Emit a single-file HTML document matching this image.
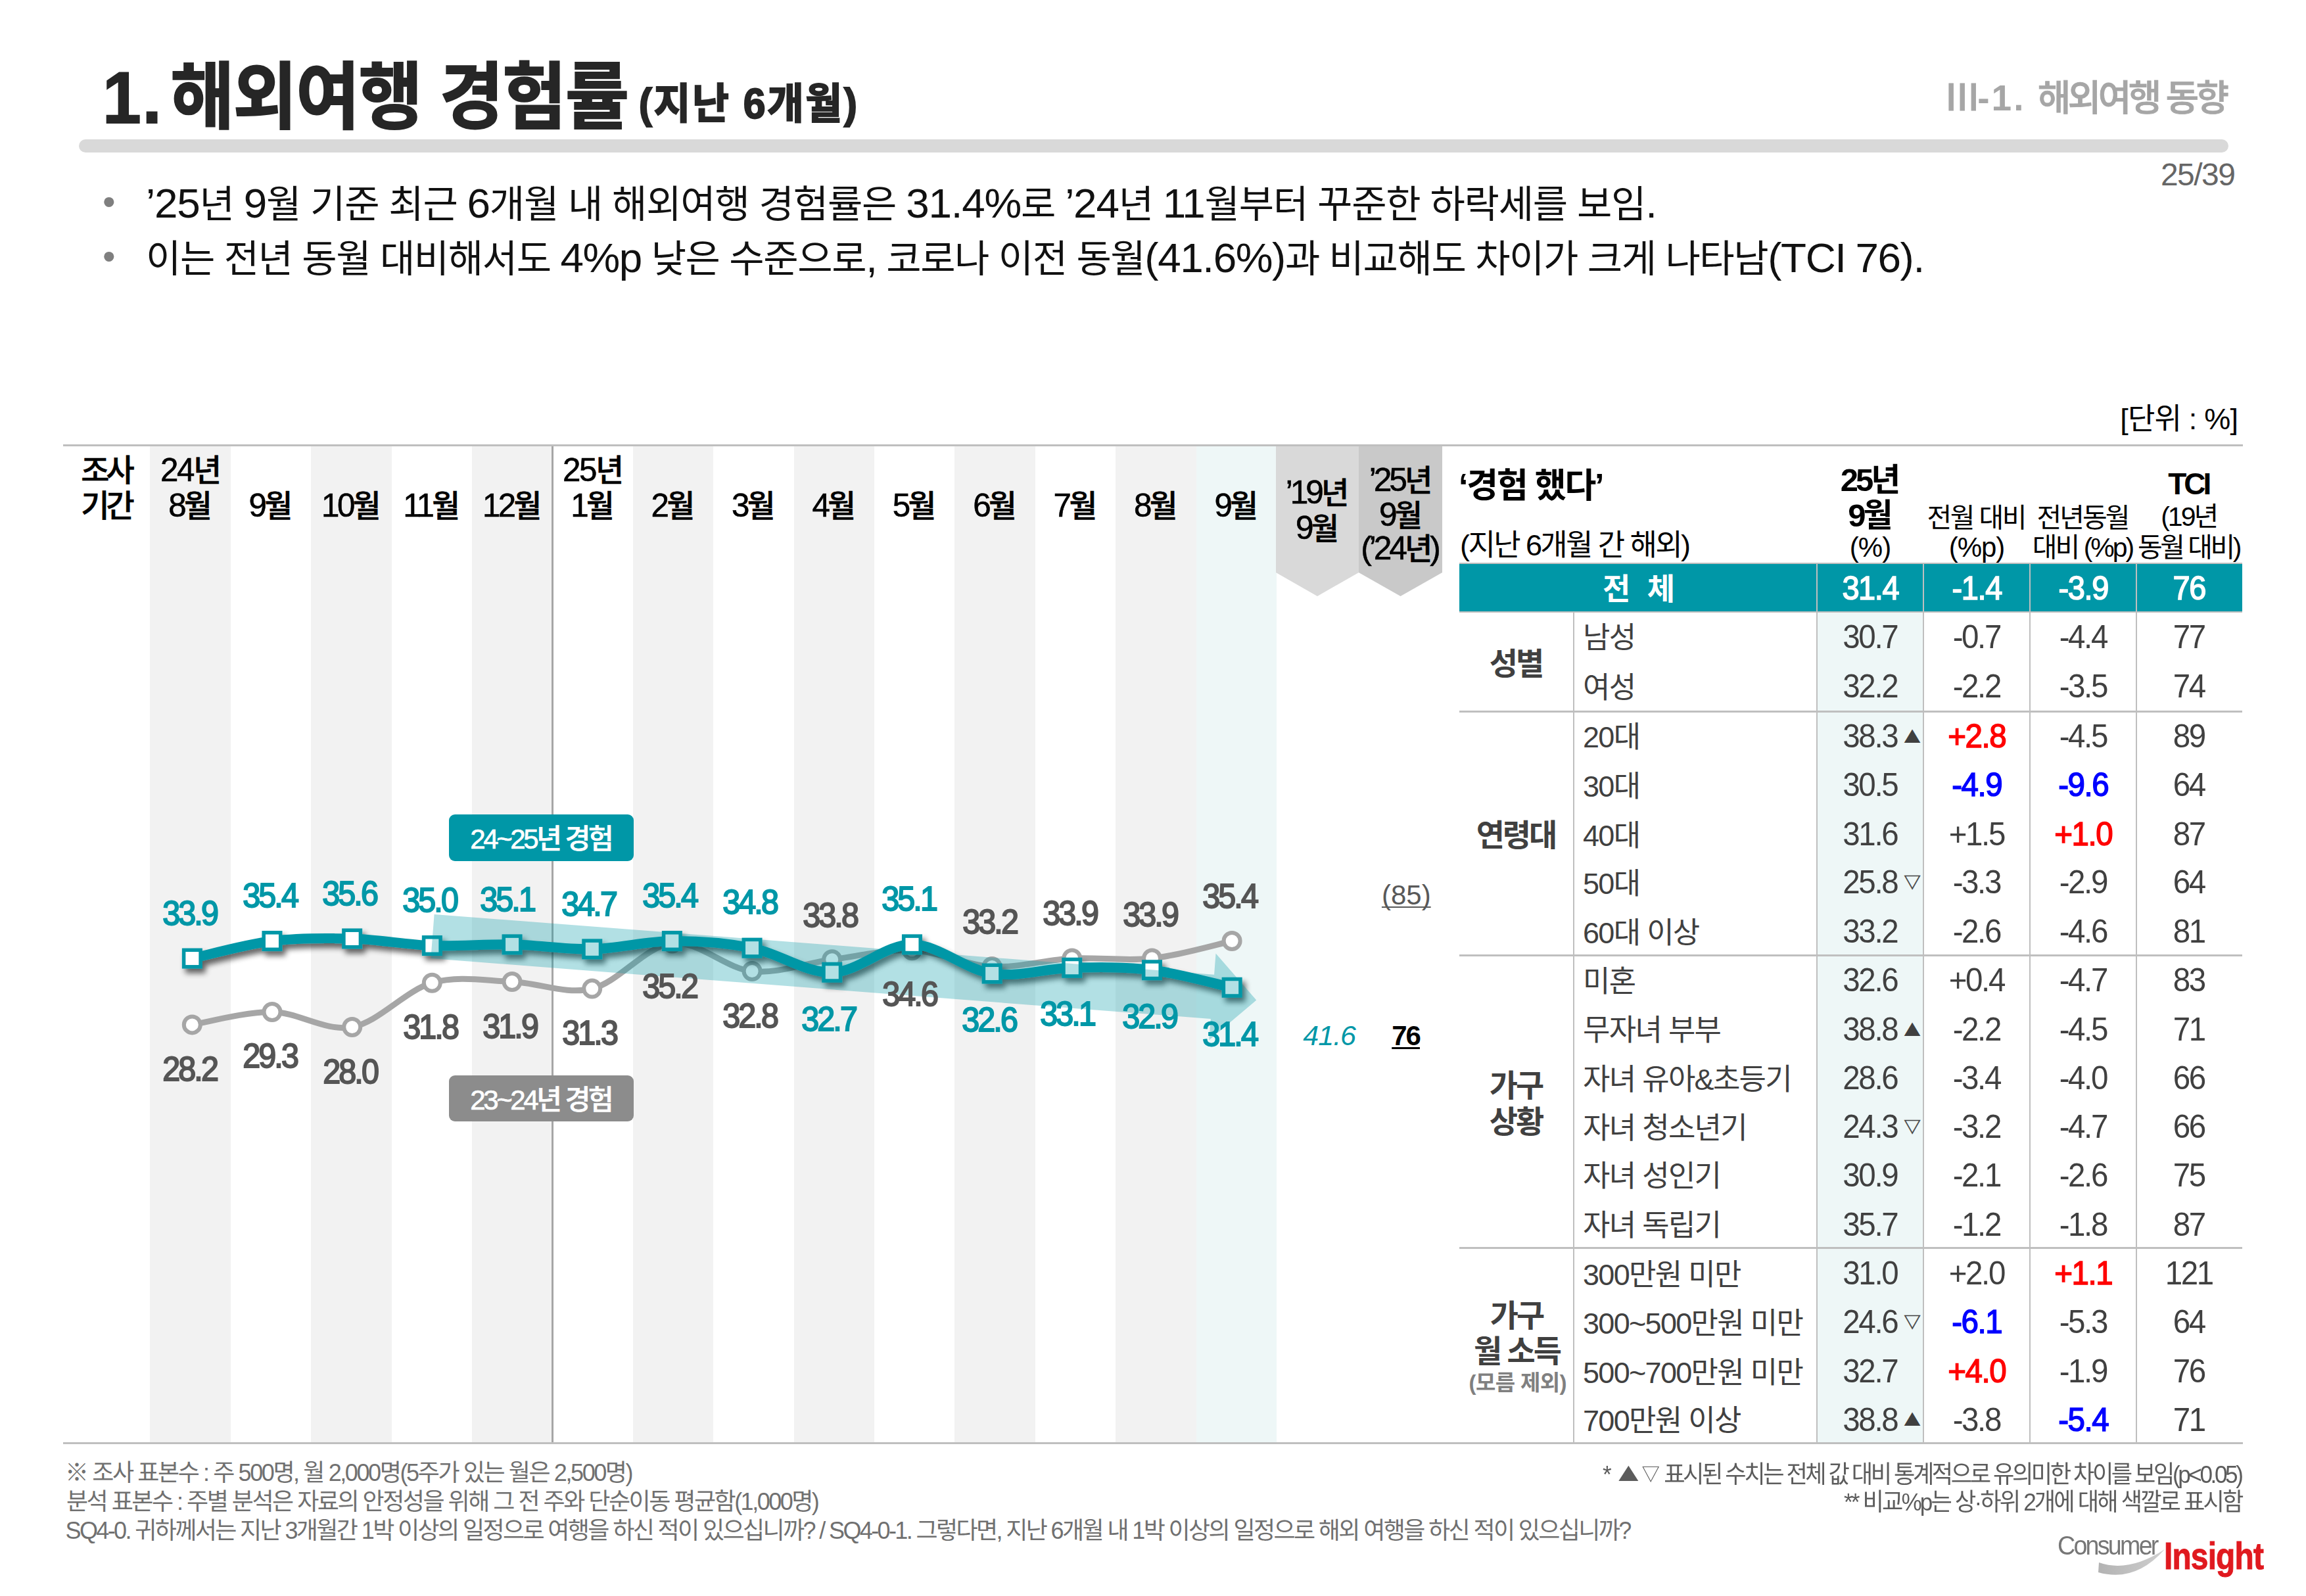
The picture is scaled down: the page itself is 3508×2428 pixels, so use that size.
<!DOCTYPE html>
<html lang="ko">
<head>
<meta charset="utf-8">
<title>1. 해외여행 경험률 (지난 6개월)</title>
<style>
html,body{margin:0;padding:0;background:#fff;}
body{width:3508px;height:2428px;position:relative;overflow:hidden;font-family:"Liberation Sans", "Noto Sans CJK KR", sans-serif;}
.t{position:absolute;white-space:nowrap;margin:0;padding:0;font-family:"Liberation Sans", "Noto Sans CJK KR", sans-serif;}
.r{position:absolute;}
svg{position:absolute;left:0;top:0;}
svg text{font-family:"Liberation Sans", "Noto Sans CJK KR", sans-serif;}

</style>
</head>
<body>
<header>
<h1 class="t" style="top:83.4px;font-size:111px;line-height:133.2px;font-weight:700;color:#262626;letter-spacing:-1.6px;left:156.0px;transform-origin:0 50%;transform:scaleX(0.95);-webkit-text-stroke:2px #262626;"><span style="letter-spacing:2px;margin-right:12px">1.</span>해외여행 경험률 <span style="font-size:64px;letter-spacing:2.6px;position:relative;top:-7px;margin-left:-12px">(지난 6개월)</span></h1>
<div class="t" style="top:115.9px;font-size:55px;line-height:66.0px;font-weight:500;color:#a6a6a6;letter-spacing:-4.6px;right:121.6px;-webkit-text-stroke:0.8px #a6a6a6;">Ⅲ<span style="letter-spacing:3px;font-weight:700;-webkit-text-stroke:0">-1. </span>해외여행 동향</div>
<div class="r" style="left:120.0px;top:212.0px;width:3270.0px;height:20.0px;background:#d9d9d9;border-radius:10px;"></div>
<div class="t" style="top:236.6px;font-size:48px;line-height:57.6px;font-weight:400;color:#666;letter-spacing:-1.5px;right:108.5px;">25/39</div>
<div class="t" style="top:272.5px;font-size:56px;line-height:67.2px;font-weight:400;color:#7f7f7f;left:156.0px;">•</div>
<div class="t" style="top:355.5px;font-size:56px;line-height:67.2px;font-weight:400;color:#7f7f7f;left:156.0px;">•</div>
<p class="t" style="top:275.1px;font-size:58px;line-height:69.6px;font-weight:400;color:#111;letter-spacing:-1.2px;left:222.0px;"><span style="font-size:1.1em">’25</span>년 <span style="font-size:1.1em">9</span>월 기준 최근 <span style="font-size:1.1em">6</span>개월 내 해외여행 경험률은 <span style="font-size:1.1em">31.4%</span>로 <span style="font-size:1.1em">’24</span>년 <span style="font-size:1.1em">11</span>월부터 꾸준한 하락세를 보임<span style="font-size:1.1em">.</span></p>
<p class="t" style="top:358.1px;font-size:58px;line-height:69.6px;font-weight:400;color:#111;letter-spacing:-1.4px;left:222.0px;">이는 전년 동월 대비해서도 <span style="font-size:1.1em">4%p</span> 낮은 수준으로<span style="font-size:1.1em">,</span> 코로나 이전 동월<span style="font-size:1.1em">(41.6%)</span>과 비교해도 차이가 크게 나타남<span style="font-size:1.1em">(TCI</span> <span style="font-size:1.1em">76).</span></p>
<div class="t" style="top:611.4px;font-size:45px;line-height:54.0px;font-weight:400;color:#000;letter-spacing:-0.8px;right:103.8px;">[단위 : %]</div>
</header>
<section class="chart" aria-label="해외여행 경험률 추이">
<div class="r" style="left:228.0px;top:679.0px;width:123.0px;height:1515.0px;background:#f2f2f2;"></div>
<div class="r" style="left:473.0px;top:679.0px;width:123.0px;height:1515.0px;background:#f2f2f2;"></div>
<div class="r" style="left:718.0px;top:679.0px;width:122.0px;height:1515.0px;background:#f2f2f2;"></div>
<div class="r" style="left:963.0px;top:679.0px;width:122.0px;height:1515.0px;background:#f2f2f2;"></div>
<div class="r" style="left:1208.0px;top:679.0px;width:122.0px;height:1515.0px;background:#f2f2f2;"></div>
<div class="r" style="left:1452.0px;top:679.0px;width:123.0px;height:1515.0px;background:#f2f2f2;"></div>
<div class="r" style="left:1697.0px;top:679.0px;width:123.0px;height:1515.0px;background:#f2f2f2;"></div>
<div class="r" style="left:1820.0px;top:679.0px;width:122.0px;height:1515.0px;background:#eef7f7;"></div>
<div class="r" style="left:96.0px;top:676.0px;width:3316.0px;height:3.0px;background:#bfbfbf;"></div>
<div class="r" style="left:96.0px;top:2194.0px;width:3316.0px;height:3.0px;background:#bfbfbf;"></div>
<div class="r" style="left:839.0px;top:679.0px;width:3.0px;height:1515.0px;background:#a6a6a6;"></div>
<div class="t" style="top:687.5px;font-size:47px;line-height:56.4px;font-weight:500;color:#000;letter-spacing:-5px;left:164.0px;transform:translateX(calc(-50% + -2.50px));-webkit-text-stroke:0.6px #000;">조사</div>
<div class="t" style="top:741.5px;font-size:47px;line-height:56.4px;font-weight:500;color:#000;letter-spacing:-5px;left:164.0px;transform:translateX(calc(-50% + -2.50px));-webkit-text-stroke:0.6px #000;">기간</div>
<div class="t" style="top:741.0px;font-size:46.5px;line-height:55.8px;font-weight:500;color:#000;letter-spacing:-3.6px;left:289.5px;transform:translateX(calc(-50% + -1.80px));-webkit-text-stroke:0.6px #000;"><span style="font-size:1.06em">8</span>월</div>
<div class="t" style="top:741.0px;font-size:46.5px;line-height:55.8px;font-weight:500;color:#000;letter-spacing:-3.6px;left:411.9px;transform:translateX(calc(-50% + -1.80px));-webkit-text-stroke:0.6px #000;"><span style="font-size:1.06em">9</span>월</div>
<div class="t" style="top:741.0px;font-size:46.5px;line-height:55.8px;font-weight:500;color:#000;letter-spacing:-3.6px;left:534.3px;transform:translateX(calc(-50% + -1.80px));-webkit-text-stroke:0.6px #000;"><span style="font-size:1.06em">10</span>월</div>
<div class="t" style="top:741.0px;font-size:46.5px;line-height:55.8px;font-weight:500;color:#000;letter-spacing:-3.6px;left:656.7px;transform:translateX(calc(-50% + -1.80px));-webkit-text-stroke:0.6px #000;"><span style="font-size:1.06em">11</span>월</div>
<div class="t" style="top:741.0px;font-size:46.5px;line-height:55.8px;font-weight:500;color:#000;letter-spacing:-3.6px;left:779.1px;transform:translateX(calc(-50% + -1.80px));-webkit-text-stroke:0.6px #000;"><span style="font-size:1.06em">12</span>월</div>
<div class="t" style="top:741.0px;font-size:46.5px;line-height:55.8px;font-weight:500;color:#000;letter-spacing:-3.6px;left:901.5px;transform:translateX(calc(-50% + -1.80px));-webkit-text-stroke:0.6px #000;"><span style="font-size:1.06em">1</span>월</div>
<div class="t" style="top:741.0px;font-size:46.5px;line-height:55.8px;font-weight:500;color:#000;letter-spacing:-3.6px;left:1023.9px;transform:translateX(calc(-50% + -1.80px));-webkit-text-stroke:0.6px #000;"><span style="font-size:1.06em">2</span>월</div>
<div class="t" style="top:741.0px;font-size:46.5px;line-height:55.8px;font-weight:500;color:#000;letter-spacing:-3.6px;left:1146.3px;transform:translateX(calc(-50% + -1.80px));-webkit-text-stroke:0.6px #000;"><span style="font-size:1.06em">3</span>월</div>
<div class="t" style="top:741.0px;font-size:46.5px;line-height:55.8px;font-weight:500;color:#000;letter-spacing:-3.6px;left:1268.7px;transform:translateX(calc(-50% + -1.80px));-webkit-text-stroke:0.6px #000;"><span style="font-size:1.06em">4</span>월</div>
<div class="t" style="top:741.0px;font-size:46.5px;line-height:55.8px;font-weight:500;color:#000;letter-spacing:-3.6px;left:1391.1px;transform:translateX(calc(-50% + -1.80px));-webkit-text-stroke:0.6px #000;"><span style="font-size:1.06em">5</span>월</div>
<div class="t" style="top:741.0px;font-size:46.5px;line-height:55.8px;font-weight:500;color:#000;letter-spacing:-3.6px;left:1513.5px;transform:translateX(calc(-50% + -1.80px));-webkit-text-stroke:0.6px #000;"><span style="font-size:1.06em">6</span>월</div>
<div class="t" style="top:741.0px;font-size:46.5px;line-height:55.8px;font-weight:500;color:#000;letter-spacing:-3.6px;left:1635.9px;transform:translateX(calc(-50% + -1.80px));-webkit-text-stroke:0.6px #000;"><span style="font-size:1.06em">7</span>월</div>
<div class="t" style="top:741.0px;font-size:46.5px;line-height:55.8px;font-weight:500;color:#000;letter-spacing:-3.6px;left:1758.3px;transform:translateX(calc(-50% + -1.80px));-webkit-text-stroke:0.6px #000;"><span style="font-size:1.06em">8</span>월</div>
<div class="t" style="top:741.0px;font-size:46.5px;line-height:55.8px;font-weight:500;color:#000;letter-spacing:-3.6px;left:1880.7px;transform:translateX(calc(-50% + -1.80px));-webkit-text-stroke:0.6px #000;"><span style="font-size:1.06em">9</span>월</div>
<div class="t" style="top:687.0px;font-size:46.5px;line-height:55.8px;font-weight:500;color:#000;letter-spacing:-2.2px;left:290.5px;transform:translateX(calc(-50% + -1.10px));-webkit-text-stroke:0.6px #000;"><span style="font-size:1.06em">24</span>년</div>
<div class="t" style="top:687.0px;font-size:46.5px;line-height:55.8px;font-weight:500;color:#000;letter-spacing:-2.2px;left:902.5px;transform:translateX(calc(-50% + -1.10px));-webkit-text-stroke:0.6px #000;"><span style="font-size:1.06em">25</span>년</div>
<svg width="3508" height="2428" viewBox="0 0 3508 2428">
<defs><filter id="sh" x="-5%" y="-50%" width="110%" height="220%"><feGaussianBlur in="SourceAlpha" stdDeviation="4"/><feOffset dx="5" dy="7"/><feComponentTransfer><feFuncA type="linear" slope="0.6"/></feComponentTransfer><feMerge><feMergeNode/><feMergeNode in="SourceGraphic"/></feMerge></filter></defs>
<polygon points="1941,679 2067,679 2067,871 2004.0,907 1941,871" fill="#d9d9d9"/>
<polygon points="2067,679 2194,679 2194,871 2130.5,907 2067,871" fill="#c9c9c9"/>
<path d="M292.3,1558.9 C312.6,1555.7 373.4,1538.9 414.0,1539.5 C454.5,1540.1 495.1,1569.9 535.7,1562.5 C576.2,1555.1 616.8,1506.7 657.3,1495.2 C697.9,1483.7 738.5,1492.0 779.0,1493.5 C819.6,1494.9 860.1,1513.8 900.7,1504.1 C941.3,1494.3 981.8,1439.5 1022.4,1435.0 C1062.9,1430.6 1103.5,1473.4 1144.1,1477.5 C1184.6,1481.7 1225.2,1465.1 1265.7,1459.8 C1306.3,1454.5 1346.9,1443.9 1387.4,1445.7 C1428.0,1447.4 1468.5,1468.4 1509.1,1470.4 C1549.7,1472.5 1590.2,1460.1 1630.8,1458.0 C1671.3,1456.0 1711.9,1462.5 1752.5,1458.0 C1793.0,1453.6 1853.9,1435.9 1874.1,1431.5" fill="none" stroke="#a6a6a6" stroke-width="9" stroke-linecap="round" stroke-linejoin="round"/>
<circle cx="292.3" cy="1558.9" r="12.5" fill="#fff" stroke="#a6a6a6" stroke-width="6"/>
<circle cx="414.0" cy="1539.5" r="12.5" fill="#fff" stroke="#a6a6a6" stroke-width="6"/>
<circle cx="535.7" cy="1562.5" r="12.5" fill="#fff" stroke="#a6a6a6" stroke-width="6"/>
<circle cx="657.3" cy="1495.2" r="12.5" fill="#fff" stroke="#a6a6a6" stroke-width="6"/>
<circle cx="779.0" cy="1493.5" r="12.5" fill="#fff" stroke="#a6a6a6" stroke-width="6"/>
<circle cx="900.7" cy="1504.1" r="12.5" fill="#fff" stroke="#a6a6a6" stroke-width="6"/>
<circle cx="1022.4" cy="1435.0" r="12.5" fill="#fff" stroke="#a6a6a6" stroke-width="6"/>
<circle cx="1144.1" cy="1477.5" r="12.5" fill="#fff" stroke="#a6a6a6" stroke-width="6"/>
<circle cx="1265.7" cy="1459.8" r="12.5" fill="#fff" stroke="#a6a6a6" stroke-width="6"/>
<circle cx="1387.4" cy="1445.7" r="12.5" fill="#fff" stroke="#a6a6a6" stroke-width="6"/>
<circle cx="1509.1" cy="1470.4" r="12.5" fill="#fff" stroke="#a6a6a6" stroke-width="6"/>
<circle cx="1630.8" cy="1458.0" r="12.5" fill="#fff" stroke="#a6a6a6" stroke-width="6"/>
<circle cx="1752.5" cy="1458.0" r="12.5" fill="#fff" stroke="#a6a6a6" stroke-width="6"/>
<circle cx="1874.1" cy="1431.5" r="12.5" fill="#fff" stroke="#a6a6a6" stroke-width="6"/>
<g filter="url(#sh)"><path d="M292.3,1458.0 C312.6,1453.6 373.4,1436.5 414.0,1431.5 C454.5,1426.5 495.1,1426.8 535.7,1428.0 C576.2,1429.1 616.8,1437.1 657.3,1438.6 C697.9,1440.1 738.5,1435.9 779.0,1436.8 C819.6,1437.7 860.1,1444.8 900.7,1443.9 C941.3,1443.0 981.8,1431.8 1022.4,1431.5 C1062.9,1431.2 1103.5,1434.2 1144.1,1442.1 C1184.6,1450.1 1225.2,1480.2 1265.7,1479.3 C1306.3,1478.4 1346.9,1436.5 1387.4,1436.8 C1428.0,1437.1 1468.5,1475.2 1509.1,1481.1 C1549.7,1487.0 1590.2,1473.1 1630.8,1472.2 C1671.3,1471.3 1711.9,1470.7 1752.5,1475.8 C1793.0,1480.8 1853.9,1497.9 1874.1,1502.3" fill="none" stroke="#0097a7" stroke-width="15" stroke-linecap="round" stroke-linejoin="round"/>
<rect x="279.6" y="1445.3" width="25.5" height="25.5" fill="#fff" stroke="#0097a7" stroke-width="5.5"/>
<rect x="401.2" y="1418.8" width="25.5" height="25.5" fill="#fff" stroke="#0097a7" stroke-width="5.5"/>
<rect x="522.9" y="1415.2" width="25.5" height="25.5" fill="#fff" stroke="#0097a7" stroke-width="5.5"/>
<rect x="644.6" y="1425.8" width="25.5" height="25.5" fill="#fff" stroke="#0097a7" stroke-width="5.5"/>
<rect x="766.3" y="1424.1" width="25.5" height="25.5" fill="#fff" stroke="#0097a7" stroke-width="5.5"/>
<rect x="888.0" y="1431.1" width="25.5" height="25.5" fill="#fff" stroke="#0097a7" stroke-width="5.5"/>
<rect x="1009.6" y="1418.8" width="25.5" height="25.5" fill="#fff" stroke="#0097a7" stroke-width="5.5"/>
<rect x="1131.3" y="1429.4" width="25.5" height="25.5" fill="#fff" stroke="#0097a7" stroke-width="5.5"/>
<rect x="1253.0" y="1466.5" width="25.5" height="25.5" fill="#fff" stroke="#0097a7" stroke-width="5.5"/>
<rect x="1374.7" y="1424.1" width="25.5" height="25.5" fill="#fff" stroke="#0097a7" stroke-width="5.5"/>
<rect x="1496.4" y="1468.3" width="25.5" height="25.5" fill="#fff" stroke="#0097a7" stroke-width="5.5"/>
<rect x="1618.0" y="1459.5" width="25.5" height="25.5" fill="#fff" stroke="#0097a7" stroke-width="5.5"/>
<rect x="1739.7" y="1463.0" width="25.5" height="25.5" fill="#fff" stroke="#0097a7" stroke-width="5.5"/>
<rect x="1861.4" y="1489.5" width="25.5" height="25.5" fill="#fff" stroke="#0097a7" stroke-width="5.5"/>
</g>
<g transform="translate(658,1424.5) rotate(4.43)"><polygon points="0,-33.7 1190,-33.7 1190,-66 1257,0 1190,66 1190,33.7 0,33.7" fill="#0097a7" fill-opacity="0.3"/></g>
</svg>
<div class="t" style="top:721.5px;font-size:46px;line-height:55.2px;font-weight:500;color:#000;letter-spacing:-4px;left:2004.0px;transform:translateX(calc(-50% + -2.00px));-webkit-text-stroke:0.6px #000;"><span style="font-size:1.08em">’19</span>년</div>
<div class="t" style="top:775.5px;font-size:46px;line-height:55.2px;font-weight:500;color:#000;letter-spacing:-4px;left:2004.0px;transform:translateX(calc(-50% + -2.00px));-webkit-text-stroke:0.6px #000;"><span style="font-size:1.08em">9</span>월</div>
<div class="t" style="top:702.5px;font-size:46px;line-height:55.2px;font-weight:500;color:#000;letter-spacing:-4px;left:2131.0px;transform:translateX(calc(-50% + -2.00px));-webkit-text-stroke:0.6px #000;"><span style="font-size:1.08em">’25</span>년</div>
<div class="t" style="top:755.5px;font-size:46px;line-height:55.2px;font-weight:500;color:#000;letter-spacing:-4px;left:2131.0px;transform:translateX(calc(-50% + -2.00px));-webkit-text-stroke:0.6px #000;"><span style="font-size:1.08em">9</span>월</div>
<div class="t" style="top:807.0px;font-size:46px;line-height:55.2px;font-weight:500;color:#000;letter-spacing:-4px;left:2131.0px;transform:translateX(calc(-50% + -2.00px));-webkit-text-stroke:0.6px #000;"><span style="font-size:1.08em">(’24</span>년<span style="font-size:1.08em">)</span></div>
<div class="r" style="left:683.0px;top:1239.0px;width:281.0px;height:71.0px;background:#0097a7;border-radius:9px;"></div>
<div class="t" style="top:1251.7px;font-size:42px;line-height:50.4px;font-weight:500;color:#fff;letter-spacing:-3.4px;left:824.5px;transform:translateX(calc(-50% + -1.70px));-webkit-text-stroke:0.7px #fff;">24~25년 경험</div>
<div class="r" style="left:683.0px;top:1636.0px;width:281.0px;height:70.0px;background:#8c8c8c;border-radius:9px;"></div>
<div class="t" style="top:1648.7px;font-size:42px;line-height:50.4px;font-weight:500;color:#fff;letter-spacing:-3.4px;left:824.5px;transform:translateX(calc(-50% + -1.70px));-webkit-text-stroke:0.7px #fff;">23~24년 경험</div>
<div class="t vl" style="top:1359.2px;font-size:51px;line-height:61.2px;font-weight:400;color:#0097a7;letter-spacing:-3px;left:290.0px;transform:translateX(calc(-50% + -1.42px)) scaleX(0.95);-webkit-text-stroke:2px #0097a7;">33.9</div>
<div class="t vl" style="top:1332.0px;font-size:51px;line-height:61.2px;font-weight:400;color:#0097a7;letter-spacing:-3px;left:411.6px;transform:translateX(calc(-50% + -1.42px)) scaleX(0.95);-webkit-text-stroke:2px #0097a7;">35.4</div>
<div class="t vl" style="top:1329.2px;font-size:51px;line-height:61.2px;font-weight:400;color:#0097a7;letter-spacing:-3px;left:533.0px;transform:translateX(calc(-50% + -1.42px)) scaleX(0.95);-webkit-text-stroke:2px #0097a7;">35.6</div>
<div class="t vl" style="top:1338.7px;font-size:51px;line-height:61.2px;font-weight:400;color:#0097a7;letter-spacing:-3px;left:655.0px;transform:translateX(calc(-50% + -1.42px)) scaleX(0.95);-webkit-text-stroke:2px #0097a7;">35.0</div>
<div class="t vl" style="top:1337.7px;font-size:51px;line-height:61.2px;font-weight:400;color:#0097a7;letter-spacing:-3px;left:773.0px;transform:translateX(calc(-50% + -1.42px)) scaleX(0.95);-webkit-text-stroke:2px #0097a7;">35.1</div>
<div class="t vl" style="top:1344.7px;font-size:51px;line-height:61.2px;font-weight:400;color:#0097a7;letter-spacing:-3px;left:897.0px;transform:translateX(calc(-50% + -1.42px)) scaleX(0.95);-webkit-text-stroke:2px #0097a7;">34.7</div>
<div class="t vl" style="top:1332.0px;font-size:51px;line-height:61.2px;font-weight:400;color:#0097a7;letter-spacing:-3px;left:1020.0px;transform:translateX(calc(-50% + -1.42px)) scaleX(0.95);-webkit-text-stroke:2px #0097a7;">35.4</div>
<div class="t vl" style="top:1341.7px;font-size:51px;line-height:61.2px;font-weight:400;color:#0097a7;letter-spacing:-3px;left:1141.5px;transform:translateX(calc(-50% + -1.42px)) scaleX(0.95);-webkit-text-stroke:2px #0097a7;">34.8</div>
<div class="t vl" style="top:1520.0px;font-size:51px;line-height:61.2px;font-weight:400;color:#0097a7;letter-spacing:-3px;left:1262.0px;transform:translateX(calc(-50% + -1.42px)) scaleX(0.95);-webkit-text-stroke:2px #0097a7;">32.7</div>
<div class="t vl" style="top:1336.7px;font-size:51px;line-height:61.2px;font-weight:400;color:#0097a7;letter-spacing:-3px;left:1383.8px;transform:translateX(calc(-50% + -1.42px)) scaleX(0.95);-webkit-text-stroke:2px #0097a7;">35.1</div>
<div class="t vl" style="top:1521.4px;font-size:51px;line-height:61.2px;font-weight:400;color:#0097a7;letter-spacing:-3px;left:1506.0px;transform:translateX(calc(-50% + -1.42px)) scaleX(0.95);-webkit-text-stroke:2px #0097a7;">32.6</div>
<div class="t vl" style="top:1511.9px;font-size:51px;line-height:61.2px;font-weight:400;color:#0097a7;letter-spacing:-3px;left:1625.4px;transform:translateX(calc(-50% + -1.42px)) scaleX(0.95);-webkit-text-stroke:2px #0097a7;">33.1</div>
<div class="t vl" style="top:1515.7px;font-size:51px;line-height:61.2px;font-weight:400;color:#0097a7;letter-spacing:-3px;left:1749.5px;transform:translateX(calc(-50% + -1.42px)) scaleX(0.95);-webkit-text-stroke:2px #0097a7;">32.9</div>
<div class="t vl" style="top:1542.7px;font-size:51px;line-height:61.2px;font-weight:400;color:#0097a7;letter-spacing:-3px;left:1871.5px;transform:translateX(calc(-50% + -1.42px)) scaleX(0.95);-webkit-text-stroke:2px #0097a7;">31.4</div>
<div class="t vl" style="top:1596.4px;font-size:51px;line-height:61.2px;font-weight:400;color:#555;letter-spacing:-3px;left:290.0px;transform:translateX(calc(-50% + -1.42px)) scaleX(0.95);-webkit-text-stroke:2px #555;">28.2</div>
<div class="t vl" style="top:1576.3px;font-size:51px;line-height:61.2px;font-weight:400;color:#555;letter-spacing:-3px;left:411.6px;transform:translateX(calc(-50% + -1.42px)) scaleX(0.95);-webkit-text-stroke:2px #555;">29.3</div>
<div class="t vl" style="top:1600.2px;font-size:51px;line-height:61.2px;font-weight:400;color:#555;letter-spacing:-3px;left:534.0px;transform:translateX(calc(-50% + -1.42px)) scaleX(0.95);-webkit-text-stroke:2px #555;">28.0</div>
<div class="t vl" style="top:1531.7px;font-size:51px;line-height:61.2px;font-weight:400;color:#555;letter-spacing:-3px;left:655.5px;transform:translateX(calc(-50% + -1.42px)) scaleX(0.95);-webkit-text-stroke:2px #555;">31.8</div>
<div class="t vl" style="top:1530.7px;font-size:51px;line-height:61.2px;font-weight:400;color:#555;letter-spacing:-3px;left:776.6px;transform:translateX(calc(-50% + -1.42px)) scaleX(0.95);-webkit-text-stroke:2px #555;">31.9</div>
<div class="t vl" style="top:1540.5px;font-size:51px;line-height:61.2px;font-weight:400;color:#555;letter-spacing:-3px;left:898.0px;transform:translateX(calc(-50% + -1.42px)) scaleX(0.95);-webkit-text-stroke:2px #555;">31.3</div>
<div class="t vl" style="top:1470.4px;font-size:51px;line-height:61.2px;font-weight:400;color:#555;letter-spacing:-3px;left:1020.0px;transform:translateX(calc(-50% + -1.42px)) scaleX(0.95);-webkit-text-stroke:2px #555;">35.2</div>
<div class="t vl" style="top:1515.2px;font-size:51px;line-height:61.2px;font-weight:400;color:#555;letter-spacing:-3px;left:1141.5px;transform:translateX(calc(-50% + -1.42px)) scaleX(0.95);-webkit-text-stroke:2px #555;">32.8</div>
<div class="t vl" style="top:1361.7px;font-size:51px;line-height:61.2px;font-weight:400;color:#555;letter-spacing:-3px;left:1263.7px;transform:translateX(calc(-50% + -1.42px)) scaleX(0.95);-webkit-text-stroke:2px #555;">33.8</div>
<div class="t vl" style="top:1481.7px;font-size:51px;line-height:61.2px;font-weight:400;color:#555;letter-spacing:-3px;left:1384.8px;transform:translateX(calc(-50% + -1.42px)) scaleX(0.95);-webkit-text-stroke:2px #555;">34.6</div>
<div class="t vl" style="top:1372.1px;font-size:51px;line-height:61.2px;font-weight:400;color:#555;letter-spacing:-3px;left:1506.9px;transform:translateX(calc(-50% + -1.42px)) scaleX(0.95);-webkit-text-stroke:2px #555;">33.2</div>
<div class="t vl" style="top:1359.2px;font-size:51px;line-height:61.2px;font-weight:400;color:#555;letter-spacing:-3px;left:1628.7px;transform:translateX(calc(-50% + -1.42px)) scaleX(0.95);-webkit-text-stroke:2px #555;">33.9</div>
<div class="t vl" style="top:1360.7px;font-size:51px;line-height:61.2px;font-weight:400;color:#555;letter-spacing:-3px;left:1750.7px;transform:translateX(calc(-50% + -1.42px)) scaleX(0.95);-webkit-text-stroke:2px #555;">33.9</div>
<div class="t vl" style="top:1333.0px;font-size:51px;line-height:61.2px;font-weight:400;color:#555;letter-spacing:-3px;left:1872.0px;transform:translateX(calc(-50% + -1.42px)) scaleX(0.95);-webkit-text-stroke:2px #555;">35.4</div>
<div class="t" style="top:1336.6px;font-size:42px;line-height:50.4px;font-weight:400;color:#595959;left:2139.3px;transform:translateX(calc(-50% + 0.00px));text-decoration:underline;text-decoration-thickness:2px;text-underline-offset:3px;text-decoration-skip-ink:none;">(85)</div>
<div class="t" style="top:1550.1px;font-size:43px;line-height:51.6px;font-weight:400;color:#0097a7;letter-spacing:-1px;left:2022.7px;transform:translateX(calc(-50% + -0.50px));font-style:italic;">41.6</div>
<div class="t" style="top:1551.0px;font-size:42px;line-height:50.4px;font-weight:700;color:#000;letter-spacing:-2px;left:2139.6px;transform:translateX(calc(-50% + -1.00px));text-decoration:underline;text-decoration-thickness:3px;text-underline-offset:3px;text-decoration-skip-ink:none;">76</div>
</section>
<section class="table" aria-label="경험 했다 (지난 6개월 간 해외)">
<div class="t" style="top:707.8px;font-size:52px;line-height:62.4px;font-weight:700;color:#000;letter-spacing:-2.2px;left:2219.0px;">‘경험 했다’</div>
<div class="t" style="top:803.4px;font-size:45px;line-height:54.0px;font-weight:400;color:#000;letter-spacing:-2.6px;left:2221.0px;">(지난 6개월 간 해외)</div>
<div class="t" style="top:701.1px;font-size:49px;line-height:58.8px;font-weight:700;color:#000;letter-spacing:-4px;left:2845.5px;transform:translateX(calc(-50% + -2.00px));">25년</div>
<div class="t" style="top:754.6px;font-size:49px;line-height:58.8px;font-weight:700;color:#000;letter-spacing:-4px;left:2845.5px;transform:translateX(calc(-50% + -2.00px));">9월</div>
<div class="t" style="top:808.2px;font-size:42px;line-height:50.4px;font-weight:400;color:#000;letter-spacing:-1px;left:2845.5px;transform:translateX(calc(-50% + -0.50px));">(%)</div>
<div class="t" style="top:763.7px;font-size:41px;line-height:49.2px;font-weight:400;color:#000;letter-spacing:-2.6px;left:3007.5px;transform:translateX(calc(-50% + -1.30px));">전월 대비</div>
<div class="t" style="top:808.2px;font-size:42px;line-height:50.4px;font-weight:400;color:#000;letter-spacing:-1px;left:3007.5px;transform:translateX(calc(-50% + -0.50px));">(%p)</div>
<div class="t" style="top:763.7px;font-size:41px;line-height:49.2px;font-weight:400;color:#000;letter-spacing:-3px;left:3169.5px;transform:translateX(calc(-50% + -1.50px));">전년동월</div>
<div class="t" style="top:809.2px;font-size:41px;line-height:49.2px;font-weight:400;color:#000;letter-spacing:-3px;left:3169.5px;transform:translateX(calc(-50% + -1.50px));">대비 (%p)</div>
<div class="t" style="top:708.5px;font-size:46px;line-height:55.2px;font-weight:700;color:#000;letter-spacing:-4px;left:3331.2px;transform:translateX(calc(-50% + -2.00px));">TCI</div>
<div class="t" style="top:762.2px;font-size:41px;line-height:49.2px;font-weight:400;color:#000;letter-spacing:-3px;left:3331.2px;transform:translateX(calc(-50% + -1.50px));">(19년</div>
<div class="t" style="top:809.2px;font-size:41px;line-height:49.2px;font-weight:400;color:#000;letter-spacing:-3.5px;left:3331.2px;transform:translateX(calc(-50% + -1.75px));">동월 대비)</div>
<div class="r" style="left:2220.0px;top:856.0px;width:1191.0px;height:76.0px;background:#bfbfbf;"></div>
<div class="r" style="left:2220.0px;top:858.0px;width:1191.0px;height:72.0px;background:#0097a7;"></div>
<div class="t" style="top:868.9px;font-size:46px;line-height:55.2px;font-weight:700;color:#fff;left:2493.0px;transform:translateX(calc(-50% + 0.00px));">전&nbsp; 체</div>
<div class="t" style="top:865.1px;font-size:50px;line-height:60.0px;font-weight:400;color:#fff;letter-spacing:-1.5px;left:2845.5px;transform:translateX(calc(-50% + -0.70px)) scaleX(0.94);-webkit-text-stroke:1.6px #fff;">31.4</div>
<div class="t" style="top:865.1px;font-size:50px;line-height:60.0px;font-weight:400;color:#fff;letter-spacing:-1.5px;left:3007.5px;transform:translateX(calc(-50% + -0.70px)) scaleX(0.94);-webkit-text-stroke:1.6px #fff;">-1.4</div>
<div class="t" style="top:865.1px;font-size:50px;line-height:60.0px;font-weight:400;color:#fff;letter-spacing:-1.5px;left:3169.5px;transform:translateX(calc(-50% + -0.70px)) scaleX(0.94);-webkit-text-stroke:1.6px #fff;">-3.9</div>
<div class="t" style="top:865.1px;font-size:50px;line-height:60.0px;font-weight:400;color:#fff;letter-spacing:-1.5px;left:3331.2px;transform:translateX(calc(-50% + -0.70px)) scaleX(0.94);-webkit-text-stroke:1.6px #fff;">76</div>
<div class="r" style="left:2763.5px;top:932.0px;width:162.0px;height:1262.0px;background:#eef7f7;"></div>
<div class="t" style="top:944.2px;font-size:45px;line-height:54.0px;font-weight:400;color:#404040;letter-spacing:-1.7px;left:2408.0px;">남성</div>
<div class="t" style="top:938.5px;font-size:50px;line-height:60.0px;font-weight:400;color:#404040;letter-spacing:-2.5px;left:2845.5px;transform:translateX(calc(-50% + -1.19px)) scaleX(0.95);">30.7</div>
<div class="t" style="top:938.5px;font-size:50px;line-height:60.0px;font-weight:400;color:#404040;letter-spacing:-2.5px;left:3007.5px;transform:translateX(calc(-50% + -1.19px)) scaleX(0.95);">-0.7</div>
<div class="t" style="top:938.5px;font-size:50px;line-height:60.0px;font-weight:400;color:#404040;letter-spacing:-2.5px;left:3169.5px;transform:translateX(calc(-50% + -1.19px)) scaleX(0.95);">-4.4</div>
<div class="t" style="top:938.5px;font-size:50px;line-height:60.0px;font-weight:400;color:#404040;letter-spacing:-2.5px;left:3331.2px;transform:translateX(calc(-50% + -1.19px)) scaleX(0.95);">77</div>
<div class="t" style="top:1019.9px;font-size:45px;line-height:54.0px;font-weight:400;color:#404040;letter-spacing:-1.7px;left:2408.0px;">여성</div>
<div class="t" style="top:1014.2px;font-size:50px;line-height:60.0px;font-weight:400;color:#404040;letter-spacing:-2.5px;left:2845.5px;transform:translateX(calc(-50% + -1.19px)) scaleX(0.95);">32.2</div>
<div class="t" style="top:1014.2px;font-size:50px;line-height:60.0px;font-weight:400;color:#404040;letter-spacing:-2.5px;left:3007.5px;transform:translateX(calc(-50% + -1.19px)) scaleX(0.95);">-2.2</div>
<div class="t" style="top:1014.2px;font-size:50px;line-height:60.0px;font-weight:400;color:#404040;letter-spacing:-2.5px;left:3169.5px;transform:translateX(calc(-50% + -1.19px)) scaleX(0.95);">-3.5</div>
<div class="t" style="top:1014.2px;font-size:50px;line-height:60.0px;font-weight:400;color:#404040;letter-spacing:-2.5px;left:3331.2px;transform:translateX(calc(-50% + -1.19px)) scaleX(0.95);">74</div>
<div class="t" style="top:1095.3px;font-size:45px;line-height:54.0px;font-weight:400;color:#404040;letter-spacing:-1.7px;left:2408.0px;">20대</div>
<div class="t" style="top:1089.6px;font-size:50px;line-height:60.0px;font-weight:400;color:#404040;letter-spacing:-2.5px;left:2845.5px;transform:translateX(calc(-50% + -1.19px)) scaleX(0.95);">38.3</div>
<div class="t" style="top:1096.5px;font-size:35px;line-height:42.0px;font-weight:400;color:#404040;left:2909.0px;transform:translateX(calc(-50% + 0.00px)) scaleX(1.2);">▲</div>
<div class="t" style="top:1089.6px;font-size:50px;line-height:60.0px;font-weight:400;color:#ff0000;letter-spacing:-1.5px;left:3007.5px;transform:translateX(calc(-50% + -0.71px)) scaleX(0.95);-webkit-text-stroke:1.5px #ff0000;">+2.8</div>
<div class="t" style="top:1089.6px;font-size:50px;line-height:60.0px;font-weight:400;color:#404040;letter-spacing:-2.5px;left:3169.5px;transform:translateX(calc(-50% + -1.19px)) scaleX(0.95);">-4.5</div>
<div class="t" style="top:1089.6px;font-size:50px;line-height:60.0px;font-weight:400;color:#404040;letter-spacing:-2.5px;left:3331.2px;transform:translateX(calc(-50% + -1.19px)) scaleX(0.95);">89</div>
<div class="t" style="top:1169.9px;font-size:45px;line-height:54.0px;font-weight:400;color:#404040;letter-spacing:-1.7px;left:2408.0px;">30대</div>
<div class="t" style="top:1164.2px;font-size:50px;line-height:60.0px;font-weight:400;color:#404040;letter-spacing:-2.5px;left:2845.5px;transform:translateX(calc(-50% + -1.19px)) scaleX(0.95);">30.5</div>
<div class="t" style="top:1164.2px;font-size:50px;line-height:60.0px;font-weight:400;color:#0000ff;letter-spacing:-1.5px;left:3007.5px;transform:translateX(calc(-50% + -0.71px)) scaleX(0.95);-webkit-text-stroke:1.5px #0000ff;">-4.9</div>
<div class="t" style="top:1164.2px;font-size:50px;line-height:60.0px;font-weight:400;color:#0000ff;letter-spacing:-1.5px;left:3169.5px;transform:translateX(calc(-50% + -0.71px)) scaleX(0.95);-webkit-text-stroke:1.5px #0000ff;">-9.6</div>
<div class="t" style="top:1164.2px;font-size:50px;line-height:60.0px;font-weight:400;color:#404040;letter-spacing:-2.5px;left:3331.2px;transform:translateX(calc(-50% + -1.19px)) scaleX(0.95);">64</div>
<div class="t" style="top:1244.6px;font-size:45px;line-height:54.0px;font-weight:400;color:#404040;letter-spacing:-1.7px;left:2408.0px;">40대</div>
<div class="t" style="top:1238.9px;font-size:50px;line-height:60.0px;font-weight:400;color:#404040;letter-spacing:-2.5px;left:2845.5px;transform:translateX(calc(-50% + -1.19px)) scaleX(0.95);">31.6</div>
<div class="t" style="top:1238.9px;font-size:50px;line-height:60.0px;font-weight:400;color:#404040;letter-spacing:-2.5px;left:3007.5px;transform:translateX(calc(-50% + -1.19px)) scaleX(0.95);">+1.5</div>
<div class="t" style="top:1238.9px;font-size:50px;line-height:60.0px;font-weight:400;color:#ff0000;letter-spacing:-1.5px;left:3169.5px;transform:translateX(calc(-50% + -0.71px)) scaleX(0.95);-webkit-text-stroke:1.5px #ff0000;">+1.0</div>
<div class="t" style="top:1238.9px;font-size:50px;line-height:60.0px;font-weight:400;color:#404040;letter-spacing:-2.5px;left:3331.2px;transform:translateX(calc(-50% + -1.19px)) scaleX(0.95);">87</div>
<div class="t" style="top:1317.8px;font-size:45px;line-height:54.0px;font-weight:400;color:#404040;letter-spacing:-1.7px;left:2408.0px;">50대</div>
<div class="t" style="top:1312.1px;font-size:50px;line-height:60.0px;font-weight:400;color:#404040;letter-spacing:-2.5px;left:2845.5px;transform:translateX(calc(-50% + -1.19px)) scaleX(0.95);">25.8</div>
<div class="t" style="top:1328.2px;font-size:24.5px;line-height:29.4px;font-weight:700;color:#404040;left:2909.0px;transform:translateX(calc(-50% + 0.00px)) scaleX(1.05);-webkit-text-stroke:0.5px #404040;">▽</div>
<div class="t" style="top:1312.1px;font-size:50px;line-height:60.0px;font-weight:400;color:#404040;letter-spacing:-2.5px;left:3007.5px;transform:translateX(calc(-50% + -1.19px)) scaleX(0.95);">-3.3</div>
<div class="t" style="top:1312.1px;font-size:50px;line-height:60.0px;font-weight:400;color:#404040;letter-spacing:-2.5px;left:3169.5px;transform:translateX(calc(-50% + -1.19px)) scaleX(0.95);">-2.9</div>
<div class="t" style="top:1312.1px;font-size:50px;line-height:60.0px;font-weight:400;color:#404040;letter-spacing:-2.5px;left:3331.2px;transform:translateX(calc(-50% + -1.19px)) scaleX(0.95);">64</div>
<div class="t" style="top:1392.7px;font-size:45px;line-height:54.0px;font-weight:400;color:#404040;letter-spacing:-1.7px;left:2408.0px;">60대 이상</div>
<div class="t" style="top:1387.0px;font-size:50px;line-height:60.0px;font-weight:400;color:#404040;letter-spacing:-2.5px;left:2845.5px;transform:translateX(calc(-50% + -1.19px)) scaleX(0.95);">33.2</div>
<div class="t" style="top:1387.0px;font-size:50px;line-height:60.0px;font-weight:400;color:#404040;letter-spacing:-2.5px;left:3007.5px;transform:translateX(calc(-50% + -1.19px)) scaleX(0.95);">-2.6</div>
<div class="t" style="top:1387.0px;font-size:50px;line-height:60.0px;font-weight:400;color:#404040;letter-spacing:-2.5px;left:3169.5px;transform:translateX(calc(-50% + -1.19px)) scaleX(0.95);">-4.6</div>
<div class="t" style="top:1387.0px;font-size:50px;line-height:60.0px;font-weight:400;color:#404040;letter-spacing:-2.5px;left:3331.2px;transform:translateX(calc(-50% + -1.19px)) scaleX(0.95);">81</div>
<div class="t" style="top:1467.1px;font-size:45px;line-height:54.0px;font-weight:400;color:#404040;letter-spacing:-1.7px;left:2408.0px;">미혼</div>
<div class="t" style="top:1461.4px;font-size:50px;line-height:60.0px;font-weight:400;color:#404040;letter-spacing:-2.5px;left:2845.5px;transform:translateX(calc(-50% + -1.19px)) scaleX(0.95);">32.6</div>
<div class="t" style="top:1461.4px;font-size:50px;line-height:60.0px;font-weight:400;color:#404040;letter-spacing:-2.5px;left:3007.5px;transform:translateX(calc(-50% + -1.19px)) scaleX(0.95);">+0.4</div>
<div class="t" style="top:1461.4px;font-size:50px;line-height:60.0px;font-weight:400;color:#404040;letter-spacing:-2.5px;left:3169.5px;transform:translateX(calc(-50% + -1.19px)) scaleX(0.95);">-4.7</div>
<div class="t" style="top:1461.4px;font-size:50px;line-height:60.0px;font-weight:400;color:#404040;letter-spacing:-2.5px;left:3331.2px;transform:translateX(calc(-50% + -1.19px)) scaleX(0.95);">83</div>
<div class="t" style="top:1541.4px;font-size:45px;line-height:54.0px;font-weight:400;color:#404040;letter-spacing:-1.7px;left:2408.0px;">무자녀 부부</div>
<div class="t" style="top:1535.7px;font-size:50px;line-height:60.0px;font-weight:400;color:#404040;letter-spacing:-2.5px;left:2845.5px;transform:translateX(calc(-50% + -1.19px)) scaleX(0.95);">38.8</div>
<div class="t" style="top:1542.6px;font-size:35px;line-height:42.0px;font-weight:400;color:#404040;left:2909.0px;transform:translateX(calc(-50% + 0.00px)) scaleX(1.2);">▲</div>
<div class="t" style="top:1535.7px;font-size:50px;line-height:60.0px;font-weight:400;color:#404040;letter-spacing:-2.5px;left:3007.5px;transform:translateX(calc(-50% + -1.19px)) scaleX(0.95);">-2.2</div>
<div class="t" style="top:1535.7px;font-size:50px;line-height:60.0px;font-weight:400;color:#404040;letter-spacing:-2.5px;left:3169.5px;transform:translateX(calc(-50% + -1.19px)) scaleX(0.95);">-4.5</div>
<div class="t" style="top:1535.7px;font-size:50px;line-height:60.0px;font-weight:400;color:#404040;letter-spacing:-2.5px;left:3331.2px;transform:translateX(calc(-50% + -1.19px)) scaleX(0.95);">71</div>
<div class="t" style="top:1615.8px;font-size:45px;line-height:54.0px;font-weight:400;color:#404040;letter-spacing:-1.7px;left:2408.0px;">자녀 유아&amp;초등기</div>
<div class="t" style="top:1610.1px;font-size:50px;line-height:60.0px;font-weight:400;color:#404040;letter-spacing:-2.5px;left:2845.5px;transform:translateX(calc(-50% + -1.19px)) scaleX(0.95);">28.6</div>
<div class="t" style="top:1610.1px;font-size:50px;line-height:60.0px;font-weight:400;color:#404040;letter-spacing:-2.5px;left:3007.5px;transform:translateX(calc(-50% + -1.19px)) scaleX(0.95);">-3.4</div>
<div class="t" style="top:1610.1px;font-size:50px;line-height:60.0px;font-weight:400;color:#404040;letter-spacing:-2.5px;left:3169.5px;transform:translateX(calc(-50% + -1.19px)) scaleX(0.95);">-4.0</div>
<div class="t" style="top:1610.1px;font-size:50px;line-height:60.0px;font-weight:400;color:#404040;letter-spacing:-2.5px;left:3331.2px;transform:translateX(calc(-50% + -1.19px)) scaleX(0.95);">66</div>
<div class="t" style="top:1689.6px;font-size:45px;line-height:54.0px;font-weight:400;color:#404040;letter-spacing:-1.7px;left:2408.0px;">자녀 청소년기</div>
<div class="t" style="top:1683.9px;font-size:50px;line-height:60.0px;font-weight:400;color:#404040;letter-spacing:-2.5px;left:2845.5px;transform:translateX(calc(-50% + -1.19px)) scaleX(0.95);">24.3</div>
<div class="t" style="top:1700.0px;font-size:24.5px;line-height:29.4px;font-weight:700;color:#404040;left:2909.0px;transform:translateX(calc(-50% + 0.00px)) scaleX(1.05);-webkit-text-stroke:0.5px #404040;">▽</div>
<div class="t" style="top:1683.9px;font-size:50px;line-height:60.0px;font-weight:400;color:#404040;letter-spacing:-2.5px;left:3007.5px;transform:translateX(calc(-50% + -1.19px)) scaleX(0.95);">-3.2</div>
<div class="t" style="top:1683.9px;font-size:50px;line-height:60.0px;font-weight:400;color:#404040;letter-spacing:-2.5px;left:3169.5px;transform:translateX(calc(-50% + -1.19px)) scaleX(0.95);">-4.7</div>
<div class="t" style="top:1683.9px;font-size:50px;line-height:60.0px;font-weight:400;color:#404040;letter-spacing:-2.5px;left:3331.2px;transform:translateX(calc(-50% + -1.19px)) scaleX(0.95);">66</div>
<div class="t" style="top:1763.4px;font-size:45px;line-height:54.0px;font-weight:400;color:#404040;letter-spacing:-1.7px;left:2408.0px;">자녀 성인기</div>
<div class="t" style="top:1757.7px;font-size:50px;line-height:60.0px;font-weight:400;color:#404040;letter-spacing:-2.5px;left:2845.5px;transform:translateX(calc(-50% + -1.19px)) scaleX(0.95);">30.9</div>
<div class="t" style="top:1757.7px;font-size:50px;line-height:60.0px;font-weight:400;color:#404040;letter-spacing:-2.5px;left:3007.5px;transform:translateX(calc(-50% + -1.19px)) scaleX(0.95);">-2.1</div>
<div class="t" style="top:1757.7px;font-size:50px;line-height:60.0px;font-weight:400;color:#404040;letter-spacing:-2.5px;left:3169.5px;transform:translateX(calc(-50% + -1.19px)) scaleX(0.95);">-2.6</div>
<div class="t" style="top:1757.7px;font-size:50px;line-height:60.0px;font-weight:400;color:#404040;letter-spacing:-2.5px;left:3331.2px;transform:translateX(calc(-50% + -1.19px)) scaleX(0.95);">75</div>
<div class="t" style="top:1838.3px;font-size:45px;line-height:54.0px;font-weight:400;color:#404040;letter-spacing:-1.7px;left:2408.0px;">자녀 독립기</div>
<div class="t" style="top:1832.6px;font-size:50px;line-height:60.0px;font-weight:400;color:#404040;letter-spacing:-2.5px;left:2845.5px;transform:translateX(calc(-50% + -1.19px)) scaleX(0.95);">35.7</div>
<div class="t" style="top:1832.6px;font-size:50px;line-height:60.0px;font-weight:400;color:#404040;letter-spacing:-2.5px;left:3007.5px;transform:translateX(calc(-50% + -1.19px)) scaleX(0.95);">-1.2</div>
<div class="t" style="top:1832.6px;font-size:50px;line-height:60.0px;font-weight:400;color:#404040;letter-spacing:-2.5px;left:3169.5px;transform:translateX(calc(-50% + -1.19px)) scaleX(0.95);">-1.8</div>
<div class="t" style="top:1832.6px;font-size:50px;line-height:60.0px;font-weight:400;color:#404040;letter-spacing:-2.5px;left:3331.2px;transform:translateX(calc(-50% + -1.19px)) scaleX(0.95);">87</div>
<div class="t" style="top:1912.7px;font-size:45px;line-height:54.0px;font-weight:400;color:#404040;letter-spacing:-1.7px;left:2408.0px;">300만원 미만</div>
<div class="t" style="top:1907.0px;font-size:50px;line-height:60.0px;font-weight:400;color:#404040;letter-spacing:-2.5px;left:2845.5px;transform:translateX(calc(-50% + -1.19px)) scaleX(0.95);">31.0</div>
<div class="t" style="top:1907.0px;font-size:50px;line-height:60.0px;font-weight:400;color:#404040;letter-spacing:-2.5px;left:3007.5px;transform:translateX(calc(-50% + -1.19px)) scaleX(0.95);">+2.0</div>
<div class="t" style="top:1907.0px;font-size:50px;line-height:60.0px;font-weight:400;color:#ff0000;letter-spacing:-1.5px;left:3169.5px;transform:translateX(calc(-50% + -0.71px)) scaleX(0.95);-webkit-text-stroke:1.5px #ff0000;">+1.1</div>
<div class="t" style="top:1907.0px;font-size:50px;line-height:60.0px;font-weight:400;color:#404040;letter-spacing:-2.5px;left:3331.2px;transform:translateX(calc(-50% + -1.19px)) scaleX(0.95);">121</div>
<div class="t" style="top:1987.0px;font-size:45px;line-height:54.0px;font-weight:400;color:#404040;letter-spacing:-1.7px;left:2408.0px;">300~500만원 미만</div>
<div class="t" style="top:1981.3px;font-size:50px;line-height:60.0px;font-weight:400;color:#404040;letter-spacing:-2.5px;left:2845.5px;transform:translateX(calc(-50% + -1.19px)) scaleX(0.95);">24.6</div>
<div class="t" style="top:1997.4px;font-size:24.5px;line-height:29.4px;font-weight:700;color:#404040;left:2909.0px;transform:translateX(calc(-50% + 0.00px)) scaleX(1.05);-webkit-text-stroke:0.5px #404040;">▽</div>
<div class="t" style="top:1981.3px;font-size:50px;line-height:60.0px;font-weight:400;color:#0000ff;letter-spacing:-1.5px;left:3007.5px;transform:translateX(calc(-50% + -0.71px)) scaleX(0.95);-webkit-text-stroke:1.5px #0000ff;">-6.1</div>
<div class="t" style="top:1981.3px;font-size:50px;line-height:60.0px;font-weight:400;color:#404040;letter-spacing:-2.5px;left:3169.5px;transform:translateX(calc(-50% + -1.19px)) scaleX(0.95);">-5.3</div>
<div class="t" style="top:1981.3px;font-size:50px;line-height:60.0px;font-weight:400;color:#404040;letter-spacing:-2.5px;left:3331.2px;transform:translateX(calc(-50% + -1.19px)) scaleX(0.95);">64</div>
<div class="t" style="top:2061.7px;font-size:45px;line-height:54.0px;font-weight:400;color:#404040;letter-spacing:-1.7px;left:2408.0px;">500~700만원 미만</div>
<div class="t" style="top:2056.0px;font-size:50px;line-height:60.0px;font-weight:400;color:#404040;letter-spacing:-2.5px;left:2845.5px;transform:translateX(calc(-50% + -1.19px)) scaleX(0.95);">32.7</div>
<div class="t" style="top:2056.0px;font-size:50px;line-height:60.0px;font-weight:400;color:#ff0000;letter-spacing:-1.5px;left:3007.5px;transform:translateX(calc(-50% + -0.71px)) scaleX(0.95);-webkit-text-stroke:1.5px #ff0000;">+4.0</div>
<div class="t" style="top:2056.0px;font-size:50px;line-height:60.0px;font-weight:400;color:#404040;letter-spacing:-2.5px;left:3169.5px;transform:translateX(calc(-50% + -1.19px)) scaleX(0.95);">-1.9</div>
<div class="t" style="top:2056.0px;font-size:50px;line-height:60.0px;font-weight:400;color:#404040;letter-spacing:-2.5px;left:3331.2px;transform:translateX(calc(-50% + -1.19px)) scaleX(0.95);">76</div>
<div class="t" style="top:2135.2px;font-size:45px;line-height:54.0px;font-weight:400;color:#404040;letter-spacing:-1.7px;left:2408.0px;">700만원 이상</div>
<div class="t" style="top:2129.5px;font-size:50px;line-height:60.0px;font-weight:400;color:#404040;letter-spacing:-2.5px;left:2845.5px;transform:translateX(calc(-50% + -1.19px)) scaleX(0.95);">38.8</div>
<div class="t" style="top:2136.4px;font-size:35px;line-height:42.0px;font-weight:400;color:#404040;left:2909.0px;transform:translateX(calc(-50% + 0.00px)) scaleX(1.2);">▲</div>
<div class="t" style="top:2129.5px;font-size:50px;line-height:60.0px;font-weight:400;color:#404040;letter-spacing:-2.5px;left:3007.5px;transform:translateX(calc(-50% + -1.19px)) scaleX(0.95);">-3.8</div>
<div class="t" style="top:2129.5px;font-size:50px;line-height:60.0px;font-weight:400;color:#0000ff;letter-spacing:-1.5px;left:3169.5px;transform:translateX(calc(-50% + -0.71px)) scaleX(0.95);-webkit-text-stroke:1.5px #0000ff;">-5.4</div>
<div class="t" style="top:2129.5px;font-size:50px;line-height:60.0px;font-weight:400;color:#404040;letter-spacing:-2.5px;left:3331.2px;transform:translateX(calc(-50% + -1.19px)) scaleX(0.95);">71</div>
<div class="t" style="top:982.2px;font-size:47px;line-height:56.4px;font-weight:700;color:#404040;letter-spacing:-3px;left:2307.5px;transform:translateX(calc(-50% + -1.50px));">성별</div>
<div class="t" style="top:1243.0px;font-size:47px;line-height:56.4px;font-weight:700;color:#404040;letter-spacing:-3px;left:2307.5px;transform:translateX(calc(-50% + -1.50px));">연령대</div>
<div class="t" style="top:1624.1px;font-size:47px;line-height:56.4px;font-weight:700;color:#404040;letter-spacing:-3px;left:2307.5px;transform:translateX(calc(-50% + -1.50px));">가구</div>
<div class="t" style="top:1679.3px;font-size:47px;line-height:56.4px;font-weight:700;color:#404040;letter-spacing:-3px;left:2307.5px;transform:translateX(calc(-50% + -1.50px));">상황</div>
<div class="t" style="top:1973.5px;font-size:47px;line-height:56.4px;font-weight:700;color:#404040;letter-spacing:-3px;left:2308.5px;transform:translateX(calc(-50% + -1.50px));">가구</div>
<div class="t" style="top:2027.9px;font-size:47px;line-height:56.4px;font-weight:700;color:#404040;letter-spacing:-3px;left:2309.0px;transform:translateX(calc(-50% + -1.50px));">월 소득</div>
<div class="t" style="top:2084.4px;font-size:33px;line-height:39.6px;font-weight:700;color:#808080;letter-spacing:-0.6px;left:2309.0px;transform:translateX(calc(-50% + -0.30px));">(모름 제외)</div>
<div class="r" style="left:2220.0px;top:1081.0px;width:1191.0px;height:3.0px;background:#bfbfbf;"></div>
<div class="r" style="left:2220.0px;top:1452.0px;width:1191.0px;height:3.0px;background:#bfbfbf;"></div>
<div class="r" style="left:2220.0px;top:1897.0px;width:1191.0px;height:3.0px;background:#bfbfbf;"></div>
<div class="r" style="left:2392.5px;top:932.0px;width:2.5px;height:1262.0px;background:#bfbfbf;"></div>
<div class="r" style="left:2762.5px;top:856.0px;width:2.5px;height:1338.0px;background:#bfbfbf;"></div>
<div class="r" style="left:2924.5px;top:856.0px;width:2.5px;height:1338.0px;background:#bfbfbf;"></div>
<div class="r" style="left:3086.5px;top:856.0px;width:2.5px;height:1338.0px;background:#bfbfbf;"></div>
<div class="r" style="left:3248.5px;top:856.0px;width:2.5px;height:1338.0px;background:#bfbfbf;"></div>
</section>
<footer>
<p class="t" style="top:2218.9px;font-size:36px;line-height:43.2px;font-weight:400;color:#707070;letter-spacing:-2.4px;left:99.0px;">※ 조사 표본수 : 주 500명, 월 2,000명(5주가 있는 월은 2,500명)</p>
<p class="t" style="top:2262.9px;font-size:36px;line-height:43.2px;font-weight:400;color:#707070;letter-spacing:-2.5px;left:101.0px;">분석 표본수 : 주별 분석은 자료의 안정성을 위해 그 전 주와 단순이동 평균함(1,000명)</p>
<p class="t" style="top:2306.6px;font-size:36px;line-height:43.2px;font-weight:400;color:#707070;letter-spacing:-2.62px;left:99.5px;">SQ4-0. 귀하께서는 지난 3개월간 1박 이상의 일정으로 여행을 하신 적이 있으십니까? / SQ4-0-1. 그렇다면, 지난 6개월 내 1박 이상의 일정으로 해외 여행을 하신 적이 있으십니까?</p>
<p class="t" style="top:2219.5px;font-size:37px;line-height:44.4px;font-weight:400;color:#5c5c5c;letter-spacing:-3.6px;right:98.4px;transform-origin:100% 50%;transform:scaleX(0.95);">* <span style="display:inline-block;transform:scaleX(1.35);margin:0 5px 0 4px;font-size:1.08em;position:relative;top:-3px">▲</span><span style="font-size:0.78em;position:relative;top:-3px;letter-spacing:0">▽</span> 표시된 수치는 전체 값 대비 통계적으로 유의미한 차이를 보임(p&lt;0.05)</p>
<p class="t" style="top:2263.5px;font-size:37px;line-height:44.4px;font-weight:400;color:#5c5c5c;letter-spacing:-3.0px;right:97.8px;transform-origin:100% 50%;transform:scaleX(0.95);">** 비교%p는 상·하위 2개에 대해 색깔로 표시함</p>
<!-- logo -->
<svg width="3508" height="2428" viewBox="0 0 3508 2428"><defs><linearGradient id="sw" x1="0" y1="0" x2="1" y2="0"><stop offset="0" stop-color="#b3b3b3"/><stop offset="1" stop-color="#cfcfcf"/></linearGradient></defs><path d="M3193,2377 Q3238,2393 3293,2357 Q3248,2408 3192,2392 Z" fill="url(#sw)"/></svg>
<div class="t" style="top:2327.4px;font-size:40px;line-height:48.0px;font-weight:400;color:#777;letter-spacing:-2.9px;left:3130.0px;transform-origin:0 50%;transform:scaleX(0.94);">Consumer</div>
<div class="t" style="top:2332.7px;font-size:57px;line-height:68.4px;font-weight:700;color:#e0191f;letter-spacing:-1px;left:3292.0px;transform-origin:0 50%;transform:scaleX(0.84);-webkit-text-stroke:1px #e0191f;">Insight</div>
</footer>
</body>
</html>
